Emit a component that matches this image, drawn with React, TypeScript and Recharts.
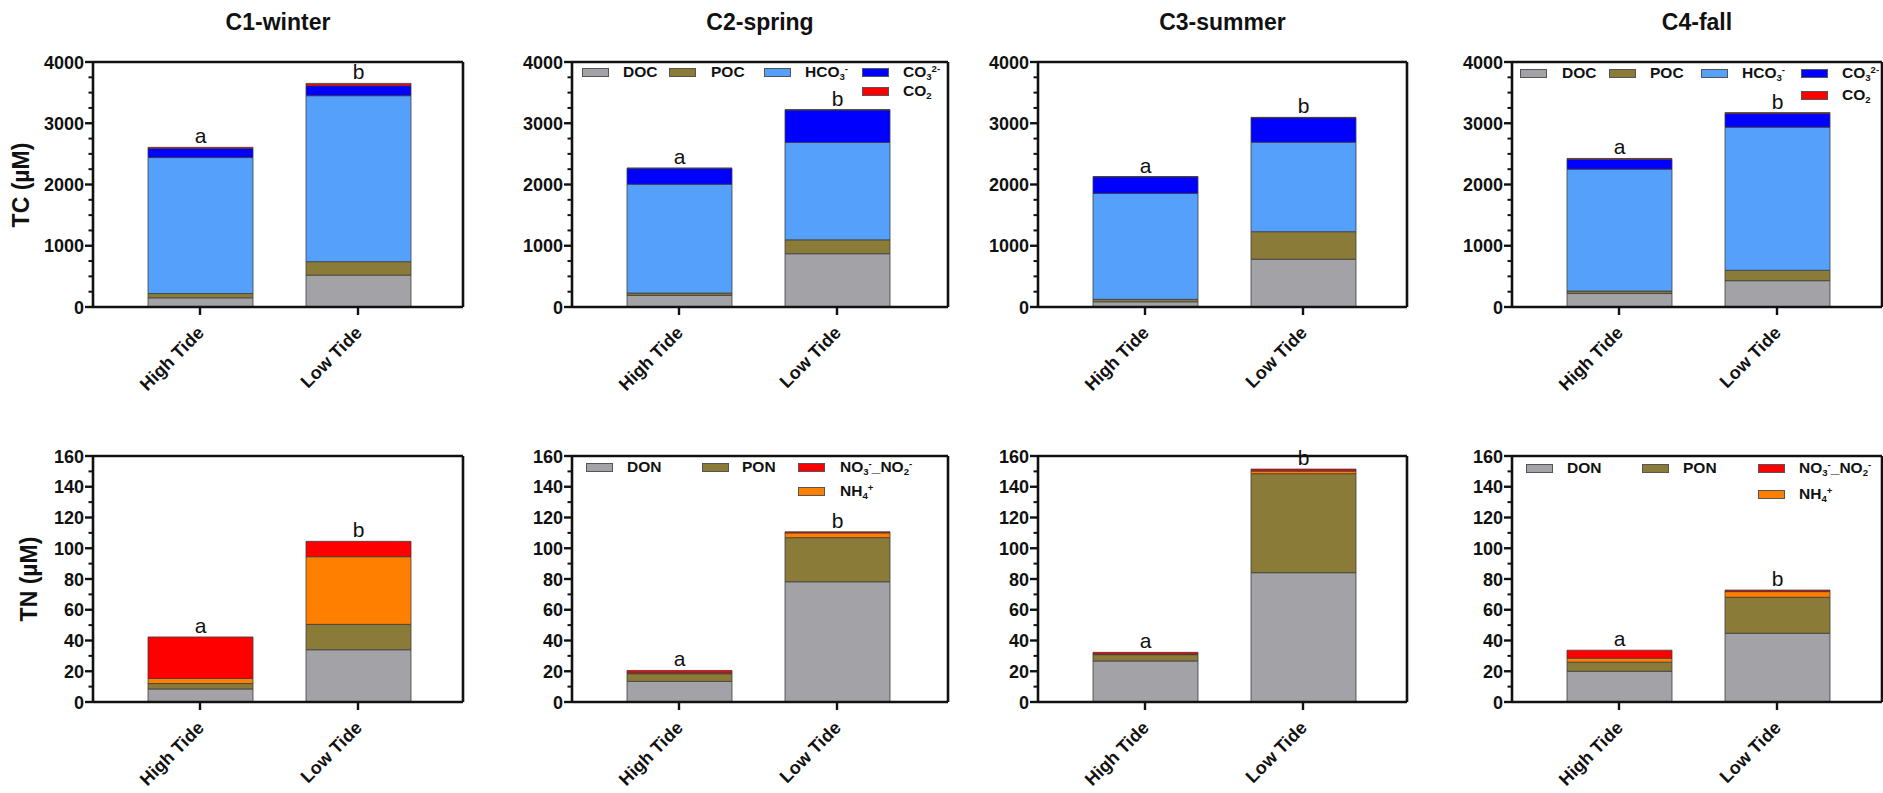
import React from "react";
import { Bar, BarChart, LabelList, XAxis, YAxis } from "recharts";

const categories = ["High Tide", "Low Tide"];
const seasons = ["C1-winter", "C2-spring", "C3-summer", "C4-fall"];
const letters = ["a", "b"];

// TC (µM), per season: [High Tide, Low Tide]
const docVals = [[150, 520], [190, 870], [85, 780], [220, 430]];
const pocVals = [[70, 220], [38, 227], [40, 450], [40, 170]];
const hco3Vals = [[2220, 2710], [1776, 1590], [1730, 1460], [1990, 2335]];
const co3Vals = [[147, 163], [260, 530], [270, 400], [163, 223]];
const co2Vals = [[20, 38], [4, 4], [4, 6], [12, 16]];

// TN (µM), per season: [High Tide, Low Tide]
const donVals = [[8.5, 34], [13.4, 78.2], [26.7, 84.1], [20, 44.7]];
const ponVals = [[3.5, 16.5], [5, 28.7], [4.1, 64.4], [5.9, 23.4]];
const nh4Vals = [[3.3, 44], [0.5, 3.1], [0.3, 1.7], [2.6, 3.7]];
const no3Vals = [[27, 10], [1.6, 0.7], [1.2, 1.3], [5.2, 1.0]];

const tcTicks = [0, 250, 500, 750, 1000, 1250, 1500, 1750, 2000, 2250, 2500, 2750, 3000, 3250, 3500, 3750, 4000];
const tnTicks = [0, 10, 20, 30, 40, 50, 60, 70, 80, 90, 100, 110, 120, 130, 140, 150, 160];

const COLORS = {
  gray: "#a3a2a7",
  olive: "#8b7b38",
  lightBlue: "#55a0fa",
  blue: "#0000ff",
  red: "#ff0000",
  orange: "#ff8000",
};

const FONT = "'Liberation Sans', Arial, sans-serif";
const INK = "#111";

// plot-area edges (page px)
const plotLeft = [93, 572, 1038, 1512];
const plotRight = [463, 948, 1407, 1882];
const rows = {
  tc: { top: 62, bottom: 307 },
  tn: { top: 456, bottom: 702 },
};

const makeYTick = (majorStep: number) => (props: any) => {
  const { x, y, payload } = props;
  const v = payload.value;
  const major = v % majorStep === 0;
  return (
    <g>
      <line x1={x - (major ? 8 : 4.5)} x2={x} y1={y} y2={y} stroke={INK} strokeWidth={major ? 2.4 : 2} />
      {major && (
        <text x={x - 9} y={y} dy={6.5} textAnchor="end" fontSize={18} fontWeight="bold" fill={INK} fontFamily={FONT}>
          {v}
        </text>
      )}
    </g>
  );
};

const renderXTick = (props: any) => {
  const { x, y, payload } = props;
  const ax = x + 5;
  const ay = y + 27;
  return (
    <g>
      <line x1={x} x2={x} y1={y} y2={y + 8} stroke={INK} strokeWidth={2.4} />
      <text
        x={ax}
        y={ay}
        textAnchor="end"
        transform={`rotate(-45 ${ax} ${ay})`}
        fontSize={18}
        fontWeight="bold"
        fill={INK}
        fontFamily={FONT}
      >
        {payload.value}
      </text>
    </g>
  );
};

const renderLetter = (props: any) => {
  const vb = props.viewBox ?? props;
  return (
    <text x={vb.x + vb.width / 2} y={vb.y - 4} textAnchor="middle" fontSize={21} fill={INK} fontFamily={FONT}>
      {props.value}
    </text>
  );
};

type SeriesDef = { key: string; color: string; vals: number[][] };

const tcSeries: SeriesDef[] = [
  { key: "DOC", color: COLORS.gray, vals: docVals },
  { key: "POC", color: COLORS.olive, vals: pocVals },
  { key: "HCO3", color: COLORS.lightBlue, vals: hco3Vals },
  { key: "CO3", color: COLORS.blue, vals: co3Vals },
  { key: "CO2", color: COLORS.red, vals: co2Vals },
];

const tnSeries: SeriesDef[] = [
  { key: "DON", color: COLORS.gray, vals: donVals },
  { key: "PON", color: COLORS.olive, vals: ponVals },
  { key: "NH4", color: COLORS.orange, vals: nh4Vals },
  { key: "NO3", color: COLORS.red, vals: no3Vals },
];

function Panel({ idx, kind }: { idx: number; kind: "tc" | "tn" }) {
  const series = kind === "tc" ? tcSeries : tnSeries;
  const { top, bottom } = rows[kind];
  const left = plotLeft[idx];
  const w = plotRight[idx] - left;
  const data = categories.map((cat, ci) => {
    const row: any = { cat, letter: letters[ci] };
    series.forEach((s) => (row[s.key] = s.vals[idx][ci]));
    return row;
  });
  const axisStyle = { stroke: INK, strokeWidth: 2.6 };

  return (
    <div style={{ position: "absolute", left: left - 90, top: top - 10 }}>
      <BarChart
        width={w + 96}
        height={bottom - top + 100}
        data={data}
        margin={{ top: 9, right: 5, left: 0, bottom: 0 }}
        barSize={105}
      >
        <XAxis
          dataKey="cat"
          height={90}
          padding={{ left: 28, right: w - 28 - 316 }}
          tickSize={0}
          tickMargin={0}
          interval={0}
          tick={renderXTick}
          axisLine={axisStyle}
        />
        <XAxis xAxisId="top" orientation="top" dataKey="cat" height={1} tick={false} tickLine={false} axisLine={axisStyle} />
        <YAxis
          width={90}
          domain={kind === "tc" ? [0, 4000] : [0, 160]}
          ticks={kind === "tc" ? tcTicks : tnTicks}
          interval={0}
          tickSize={0}
          tickMargin={0}
          tick={makeYTick(kind === "tc" ? 1000 : 20)}
          axisLine={axisStyle}
        />
        <YAxis yAxisId="right" orientation="right" width={1} domain={[0, 1]} tick={false} tickLine={false} axisLine={axisStyle} />
        {series.map((s, si) => (
          <Bar
            key={s.key}
            dataKey={s.key}
            stackId="a"
            fill={s.color}
            stroke="#3d3d3d"
            strokeWidth={0.8}
            isAnimationActive={false}
          >
            {si === series.length - 1 && <LabelList dataKey="letter" content={renderLetter} />}
          </Bar>
        ))}
      </BarChart>
    </div>
  );
}

const Sub = ({ children }: { children: React.ReactNode }) => (
  <span style={{ fontSize: "0.62em", position: "relative", top: "0.35em" }}>{children}</span>
);
const Sup = ({ children }: { children: React.ReactNode }) => (
  <span style={{ fontSize: "0.62em", position: "relative", top: "-0.55em" }}>{children}</span>
);

const tcLegendItems = [
  { label: <>DOC</>, color: COLORS.gray, col: 0, row: 0 },
  { label: <>POC</>, color: COLORS.olive, col: 1, row: 0 },
  { label: <>HCO<Sub>3</Sub><Sup>-</Sup></>, color: COLORS.lightBlue, col: 2, row: 0 },
  { label: <>CO<Sub>3</Sub><Sup>2-</Sup></>, color: COLORS.blue, col: 3, row: 0 },
  { label: <>CO<Sub>2</Sub></>, color: COLORS.red, col: 3, row: 1 },
];

const tnLegendItems = [
  { label: <>DON</>, color: COLORS.gray, col: 0, row: 0 },
  { label: <>PON</>, color: COLORS.olive, col: 1, row: 0 },
  { label: <>NO<Sub>3</Sub><Sup>-</Sup>_NO<Sub>2</Sub><Sup>-</Sup></>, color: COLORS.red, col: 2, row: 0 },
  { label: <>NH<Sub>4</Sub><Sup>+</Sup></>, color: COLORS.orange, col: 2, row: 1 },
];

type LegendLayout = { x0: number; y0: number; swatchX: number[]; textX: number[]; rowY: number[] };

function PanelLegend({ items, layout }: { items: typeof tcLegendItems; layout: LegendLayout }) {
  return (
    <>
      {items.map((it, i) => {
        const cy = layout.y0 + layout.rowY[it.row];
        return (
          <React.Fragment key={i}>
            <div
              style={{
                position: "absolute",
                left: layout.x0 + layout.swatchX[it.col],
                top: cy - 4,
                width: 25,
                height: 7,
                background: it.color,
                border: "1px solid #555",
              }}
            />
            <div
              style={{
                position: "absolute",
                left: layout.x0 + layout.textX[it.col],
                top: cy - 10,
                height: 20,
                lineHeight: "20px",
                fontSize: 15.5,
                fontWeight: "bold",
                color: INK,
                whiteSpace: "nowrap",
              }}
            >
              {it.label}
            </div>
          </React.Fragment>
        );
      })}
    </>
  );
}

export default function App() {
  return (
    <div
      style={{
        position: "absolute",
        left: 0,
        top: 0,
        width: 1883,
        height: 793,
        overflow: "hidden",
        background: "#fff",
        fontFamily: FONT,
      }}
    >
      {seasons.map((s, i) => (
        <div
          key={s}
          style={{
            position: "absolute",
            left: plotLeft[i],
            width: plotRight[i] - plotLeft[i],
            top: 8,
            lineHeight: "28px",
            textAlign: "center",
            fontSize: 23,
            fontWeight: "bold",
            color: INK,
          }}
        >
          {s}
        </div>
      ))}
      {[0, 1, 2, 3].map((i) => (
        <Panel key={"tc" + i} idx={i} kind="tc" />
      ))}
      {[0, 1, 2, 3].map((i) => (
        <Panel key={"tn" + i} idx={i} kind="tn" />
      ))}
      {[
        { text: "TC (µM)", x: 21, y: 184.5 },
        { text: "TN (µM)", x: 29, y: 579 },
      ].map((l) => (
        <div
          key={l.text}
          style={{
            position: "absolute",
            left: l.x,
            top: l.y,
            transform: "translate(-50%, -50%) rotate(-90deg)",
            fontSize: 23,
            fontWeight: "bold",
            whiteSpace: "nowrap",
            color: INK,
          }}
        >
          {l.text}
        </div>
      ))}
      <PanelLegend
        items={tcLegendItems}
        layout={{ x0: plotLeft[1], y0: rows.tc.top, swatchX: [10, 97, 192, 290], textX: [51, 139, 233, 331], rowY: [10, 29] }}
      />
      <PanelLegend
        items={tcLegendItems}
        layout={{ x0: plotLeft[3], y0: rows.tc.top, swatchX: [8, 97, 189, 289], textX: [50, 138, 230, 330], rowY: [11, 33] }}
      />
      <PanelLegend
        items={tnLegendItems}
        layout={{ x0: plotLeft[1], y0: rows.tn.top, swatchX: [14, 130, 226], textX: [55, 170, 268], rowY: [11, 35] }}
      />
      <PanelLegend
        items={tnLegendItems}
        layout={{ x0: plotLeft[3], y0: rows.tn.top, swatchX: [14, 130, 246], textX: [55, 171, 287], rowY: [12, 38] }}
      />
    </div>
  );
}
